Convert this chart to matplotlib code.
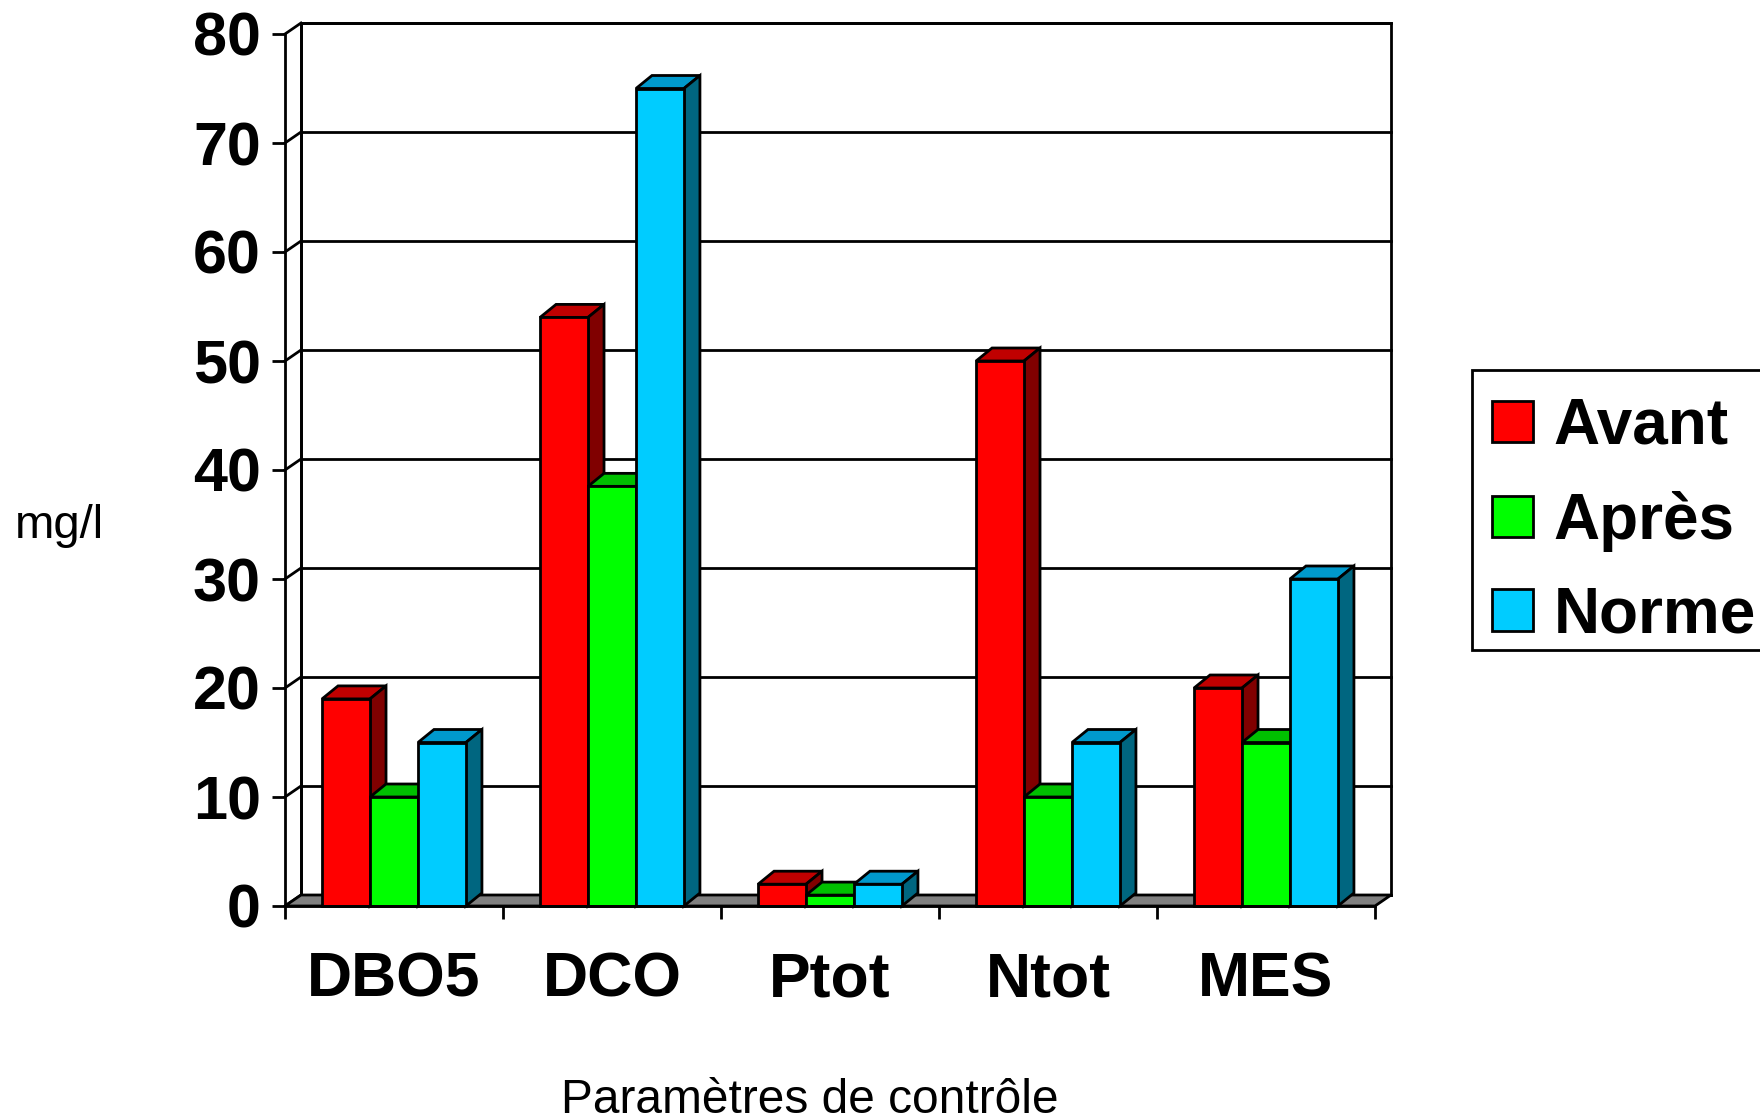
import matplotlib
matplotlib.use("Agg")
import matplotlib.pyplot as plt
from matplotlib.patches import Polygon, Patch, Rectangle

plt.rcParams['font.family'] = ['Liberation Sans', 'DejaVu Sans']

# données
categories = ['DBO5', 'DCO', 'Ptot', 'Ntot', 'MES']
series = ['Avant', 'Après', 'Norme']
avant = [19, 54, 2, 50, 20]
apres = [10, 38.5, 1, 10, 15]
norme = [15, 75, 2, 15, 30]
yticks = [0, 10, 20, 30, 40, 50, 60, 70, 80]

# couleurs : face, dessus, côté
faces = ['#FF0000', '#00FF00', '#00CCFF']
tops = ['#C00000', '#00C000', '#0099CC']
sides = ['#800000', '#008000', '#006680']

fig = plt.figure(figsize=(17.6, 11.2), dpi=100)
ax = fig.add_axes([285 / 1760, 1 - 906 / 1120, 1090 / 1760, 872 / 1120])
ax.set_xlim(0, len(categories))
ax.set_ylim(0, 80)

# profondeur (en unités de données)
px_x = 1090 / len(categories)
px_y = 872 / 80
wdx, wdy = 16 / px_x, 11 / px_y      # murs
bdx, bdy = 16 / px_x, 13 / px_y      # barres
lw = 2.0
nc = len(categories)

# mur du fond + quadrillage
ax.add_patch(Polygon([(wdx, wdy), (nc + wdx, wdy), (nc + wdx, 80 + wdy), (wdx, 80 + wdy)],
                     closed=True, fc='white', ec='black', lw=lw, clip_on=False, zorder=1))
for v in yticks:
    ax.plot([wdx, nc + wdx], [v + wdy, v + wdy], color='black', lw=lw, clip_on=False, zorder=1.5)
    ax.plot([0, wdx], [v, v + wdy], color='black', lw=lw, clip_on=False, zorder=1.5)
ax.plot([wdx, wdx], [wdy, 80 + wdy], color='black', lw=lw, clip_on=False, zorder=1.5)

# sol
ax.add_patch(Polygon([(0, 0), (nc, 0), (nc + wdx, wdy), (wdx, wdy)],
                     closed=True, fc='#808080', ec='black', lw=lw, clip_on=False, zorder=2))

# barres
w = 0.22
data = [avant, apres, norme]
for i in range(nc):
    for j in range(3):
        h = data[j][i]
        x0 = i + 0.5 - 1.5 * w + j * w
        x1 = x0 + w
        z = 3 + i * 3 + j
        ax.add_patch(Polygon([(x0, h), (x1, h), (x1 + bdx, h + bdy), (x0 + bdx, h + bdy)],
                             closed=True, fc=tops[j], ec='black', lw=lw, clip_on=False,
                             zorder=z, joinstyle='miter'))
        ax.add_patch(Polygon([(x1, 0), (x1 + bdx, bdy), (x1 + bdx, h + bdy), (x1, h)],
                             closed=True, fc=sides[j], ec='black', lw=lw, clip_on=False,
                             zorder=z, joinstyle='miter'))
        ax.add_patch(Polygon([(x0, 0), (x1, 0), (x1, h), (x0, h)],
                             closed=True, fc=faces[j], ec='black', lw=lw, clip_on=False,
                             zorder=z, joinstyle='miter'))

# axes
for s in ['top', 'right']:
    ax.spines[s].set_visible(False)
for s in ['left', 'bottom']:
    ax.spines[s].set_linewidth(lw)
    ax.spines[s].set_zorder(30)
ax.set_facecolor('none')
ax.set_yticks(yticks)
ax.set_yticklabels([str(v) for v in yticks], fontsize=44, fontweight='bold')
ax.set_xticks(range(nc + 1))
ax.set_xticklabels([])
ax.set_xticks([i + 0.5 for i in range(nc)], minor=True)
ax.set_xticklabels(categories, minor=True, fontsize=45, fontweight='bold')
ax.tick_params(axis='both', which='major', direction='out', length=9.4, width=lw)
ax.tick_params(axis='y', which='major', pad=8)
ax.tick_params(axis='x', which='minor', length=0, pad=32)

ax.set_ylabel('mg/l', rotation=0, fontsize=34, ha='left', va='center')
ax.yaxis.set_label_coords(-0.248, 0.436)
ax.set_xlabel('Paramètres de contrôle', fontsize=34.5, ha='center', va='center')
ax.xaxis.set_label_coords(0.4817, -0.2225)

# légende (cadre dessiné à part)
fig.patches.append(Rectangle((1472 / 1760, 1 - 650 / 1120), 300 / 1760, 280 / 1120,
                             transform=fig.transFigure, fc='white', ec='black', lw=lw, zorder=0))
handles = [Patch(fc=faces[k], ec='black', lw=lw) for k in range(3)]
leg = fig.legend(handles, series, loc='upper left', bbox_to_anchor=(1465 / 1760, 1 - 370 / 1120),
                 prop={'size': 46, 'weight': 'bold'}, frameon=False,
                 borderaxespad=0, borderpad=0.42, handlelength=0.64, handleheight=0.62,
                 handletextpad=0.33, labelspacing=0.53)

fig.savefig('out.png', dpi=100, facecolor='white')
